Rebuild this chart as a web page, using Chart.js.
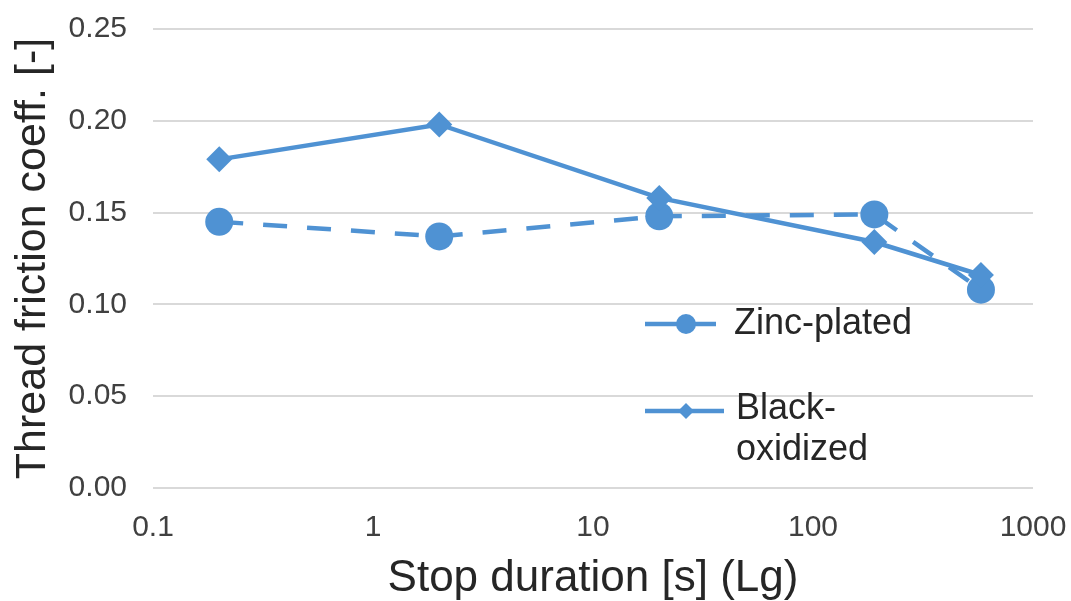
<!DOCTYPE html>
<html>
<head>
<meta charset="utf-8">
<script src="https://cdn.jsdelivr.net/npm/chart.js@4"></script>
<style>
  html, body { margin: 0; padding: 0; background: #fff; }
  #wrap { width: 1071px; height: 601px; }
</style>
</head>
<body>
<div id="wrap"><canvas id="mycanvas"></canvas></div>
<script>
var stopDuration = [0.2, 2, 20, 190, 580];
var zincPlated = [0.145, 0.137, 0.148, 0.149, 0.108];
var blackOxidized = [0.179, 0.198, 0.158, 0.134, 0.116];
var xTicks = [0.1, 1, 10, 100, 1000];
var yTicks = [0, 0.05, 0.10, 0.15, 0.20, 0.25];

var blue = '#4f92d3';
var font = "'Liberation Sans', Arial, sans-serif";

function pts(ys) {
    var out = [];
    for (var i in stopDuration) {
        out.push({x: stopDuration[i], y: ys[i]});
    }
    return out;
}

// legend sits inside the plot, drawn by hand
var innerLegend = {
    id: 'innerLegend',
    afterDatasetsDraw: function (chart) {
        var ctx = chart.ctx;
        var a = chart.chartArea;
        var x0 = a.left + 492, x1 = a.left + 567, mx = a.left + 533;
        var y1 = a.top + 295, y2 = a.top + 382;
        ctx.save();
        ctx.strokeStyle = blue;
        ctx.fillStyle = blue;
        ctx.lineWidth = 4.5;

        ctx.beginPath();
        ctx.moveTo(x0, y1); ctx.lineTo(x1 - 4, y1);
        ctx.stroke();
        ctx.beginPath();
        ctx.arc(mx, y1, 10, 0, Math.PI * 2);
        ctx.fill();

        ctx.beginPath();
        ctx.moveTo(x0, y2); ctx.lineTo(x1 + 4, y2);
        ctx.stroke();
        ctx.beginPath();
        ctx.moveTo(mx - 8, y2); ctx.lineTo(mx, y2 - 8);
        ctx.lineTo(mx + 8, y2); ctx.lineTo(mx, y2 + 8);
        ctx.closePath();
        ctx.fill();

        ctx.fillStyle = '#262626';
        ctx.font = '36px ' + font;
        ctx.textBaseline = 'middle';
        ctx.fillText('Zinc-plated', x1 + 14, y1);
        ctx.fillText('Black-', x1 + 16, y2 - 2);
        ctx.fillText('oxidized', x1 + 16, y2 + 39);
        ctx.restore();
    }
};

var chartdata = {
    datasets: [
        {
            label: 'Black-oxidized',
            data: pts(blackOxidized),
            borderColor: blue,
            backgroundColor: blue,
            borderWidth: 4.5,
            pointStyle: 'rectRot',
            pointRadius: 13,
            pointBorderWidth: 0,
            tension: 0
        },
        {
            label: 'Zinc-plated',
            data: pts(zincPlated),
            borderColor: blue,
            backgroundColor: blue,
            borderWidth: 4.5,
            borderDash: [24, 20],
            pointStyle: 'circle',
            pointRadius: 14,
            pointBorderWidth: 0,
            tension: 0
        }
    ]
};

var ctx = document.getElementById('mycanvas');

var lineGraph = new Chart(ctx, {
    type: 'line',
    data: chartdata,
    plugins: [innerLegend],
    options: {
        responsive: true,
        maintainAspectRatio: false,
        animation: false,
        layout: { padding: { top: 29, right: 38, left: 0, bottom: 0 } },
        plugins: {
            legend: { display: false },
            tooltip: { enabled: false }
        },
        scales: {
            x: {
                type: 'logarithmic',
                min: 0.1,
                max: 1000,
                afterBuildTicks: function (scale) {
                    scale.ticks = xTicks.map(function (v) { return {value: v}; });
                },
                afterFit: function (scale) {
                    scale.height = 113;
                    scale.paddingLeft = 0;
                    scale.paddingRight = 0;
                },
                grid: { display: false },
                border: { display: false },
                ticks: {
                    color: '#404040',
                    font: { family: font, size: 30 },
                    padding: 14,
                    maxRotation: 0,
                    callback: function (v) { return String(v); }
                },
                title: {
                    display: true,
                    text: 'Stop duration [s] (Lg)',
                    color: '#262626',
                    font: { family: font, size: 44, lineHeight: 1 },
                    padding: { top: 0, bottom: 0 }
                }
            },
            y: {
                min: 0,
                max: 0.25,
                afterBuildTicks: function (scale) {
                    scale.ticks = yTicks.map(function (v) { return {value: v}; });
                },
                afterFit: function (scale) {
                    scale.width = 153;
                    scale.paddingTop = 0;
                    scale.paddingBottom = 0;
                },
                grid: { color: '#d9d9d9', lineWidth: 2, drawTicks: false },
                border: { display: false },
                ticks: {
                    color: '#404040',
                    font: { family: font, size: 30 },
                    padding: 26,
                    callback: function (v) { return v.toFixed(2); }
                },
                title: {
                    display: true,
                    text: 'Thread friction coeff. [-]',
                    color: '#262626',
                    font: { family: font, size: 43, lineHeight: 1 },
                    padding: { top: 12, bottom: 0 }
                }
            }
        }
    }
});
</script>
</body>
</html>
